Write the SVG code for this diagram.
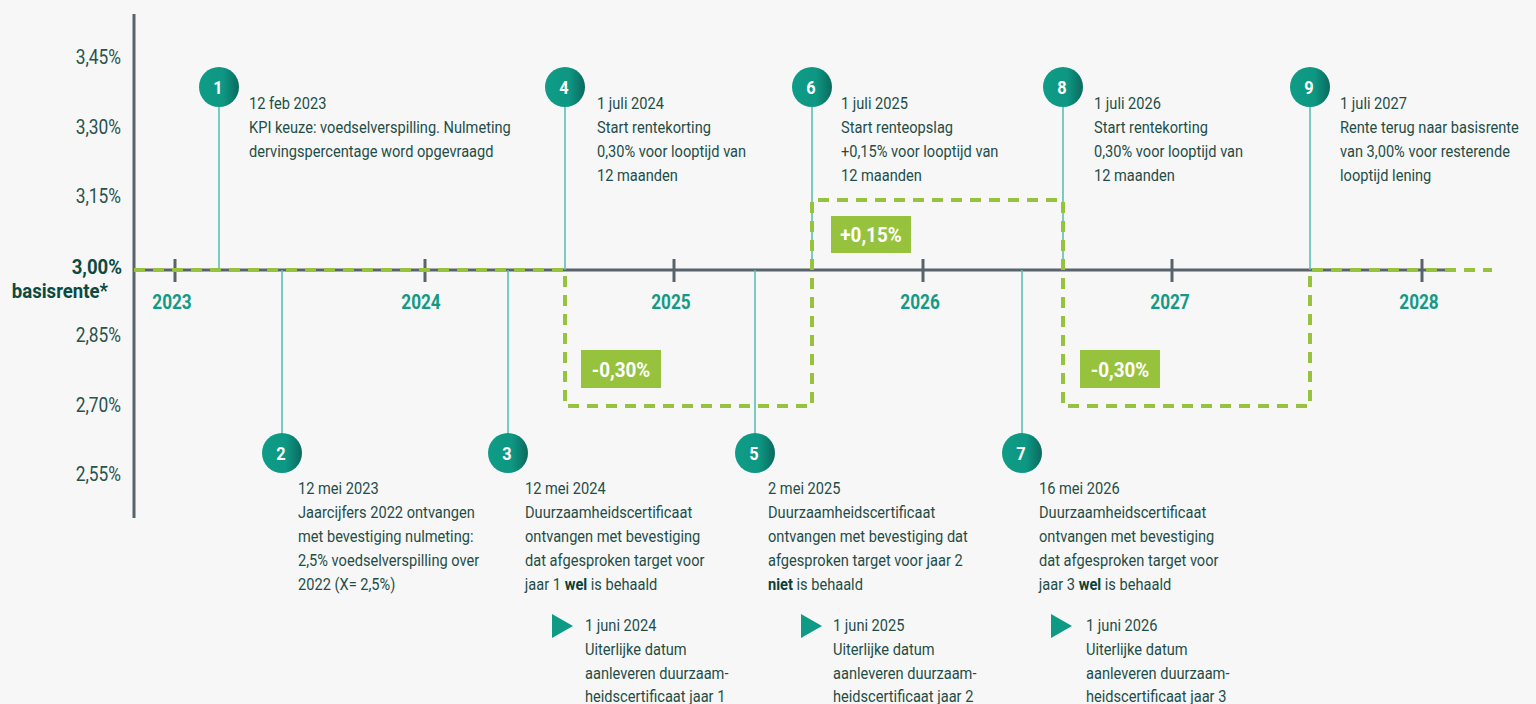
<svg xmlns="http://www.w3.org/2000/svg" width="1536" height="704" viewBox="0 0 1536 704">
<defs>
<linearGradient id="cg" x1="0" y1="0" x2="1" y2="0">
<stop offset="0" stop-color="#0f9c87"/>
<stop offset="0.6" stop-color="#0e9783"/>
<stop offset="1" stop-color="#0a6a5e"/>
</linearGradient>
<style>
text{font-family:"Roboto","Liberation Sans",sans-serif;transform-box:fill-box;}
.t{font-size:17px;fill:#1f4e47;transform-origin:left center;transform:scaleX(0.86);}
.ax{font-size:19.5px;fill:#2a524c;text-anchor:end;transform-origin:right center;transform:scaleX(0.89);}
.axb{font-size:20px;fill:#0d4a3f;text-anchor:end;font-weight:bold;transform-origin:right center;transform:scaleX(0.93);}
.yr{font-size:20px;fill:#139a86;font-weight:bold;text-anchor:middle;transform-origin:center;transform:scaleX(0.86);}
.num{font-size:19px;fill:#fff;font-weight:bold;text-anchor:middle;transform-origin:center;transform:scaleX(0.86);}
.bd{font-weight:bold;fill:#0d4038;}
.badge{fill:#97c23d;}
.bt{font-size:21px;fill:#fff;font-weight:bold;text-anchor:middle;transform-origin:center;transform:scaleX(0.9);}
.stem{stroke:#5cbfb1;stroke-width:1.6;fill:none;}
.dash{stroke:#97c23d;stroke-width:4;fill:none;stroke-dasharray:11 8;}
.tri{fill:#0e9a85;}
</style>
</defs>
<rect width="1536" height="704" fill="#f7f7f7"/>

<g id="axes">
<line x1="134" y1="14" x2="134" y2="518" stroke="#58636a" stroke-width="3"/>
<line x1="134" y1="270" x2="1445" y2="270" stroke="#58636a" stroke-width="3"/>
<g stroke="#58636a" stroke-width="3">
<line x1="175" y1="259" x2="175" y2="282"/>
<line x1="425" y1="259" x2="425" y2="282"/>
<line x1="674" y1="259" x2="674" y2="282"/>
<line x1="923" y1="259" x2="923" y2="282"/>
<line x1="1172" y1="259" x2="1172" y2="282"/>
<line x1="1422" y1="259" x2="1422" y2="282"/>
</g>
<text class="ax" x="121" y="64">3,45%</text>
<text class="ax" x="121" y="134">3,30%</text>
<text class="ax" x="121" y="203">3,15%</text>
<text class="axb" x="122" y="274">3,00%</text>
<text class="axb" x="108" y="298">basisrente*</text>
<text class="ax" x="121" y="342">2,85%</text>
<text class="ax" x="121" y="412">2,70%</text>
<text class="ax" x="121" y="481">2,55%</text>
<text class="yr" x="172" y="309">2023</text>
<text class="yr" x="421" y="309">2024</text>
<text class="yr" x="671" y="309">2025</text>
<text class="yr" x="920" y="309">2026</text>
<text class="yr" x="1170" y="309">2027</text>
<text class="yr" x="1419" y="309">2028</text>
</g>

<g id="connectors">
<line class="stem" x1="219" y1="105" x2="219" y2="270"/>
<line class="stem" x1="565" y1="105" x2="565" y2="270"/>
<line class="stem" x1="812" y1="105" x2="812" y2="270"/>
<line class="stem" x1="1063" y1="105" x2="1063" y2="270"/>
<line class="stem" x1="1310" y1="105" x2="1310" y2="270"/>
<line class="stem" x1="282" y1="270" x2="282" y2="435"/>
<line class="stem" x1="508" y1="270" x2="508" y2="435"/>
<line class="stem" x1="755" y1="270" x2="755" y2="435"/>
<line class="stem" x1="1022" y1="270" x2="1022" y2="435"/>
<path class="dash" d="M134 270 H565 V406 H812 V200 H1063 V406 H1310 V270 H1492"/>
</g>

<g id="badges">
<rect class="badge" x="581" y="350" width="80" height="38"/>
<text class="bt" x="621" y="377">-0,30%</text>
<rect class="badge" x="831" y="216" width="80" height="37"/>
<text class="bt" x="871" y="242">+0,15%</text>
<rect class="badge" x="1080" y="350" width="80" height="38"/>
<text class="bt" x="1120" y="377">-0,30%</text>
</g>

<g id="node1">
<circle cx="219" cy="87" r="20" fill="url(#cg)"/>
<text class="num" x="218" y="94">1</text>
<text class="t" x="249" y="109">12 feb 2023</text>
<text class="t" x="249" y="133">KPI keuze: voedselverspilling. Nulmeting</text>
<text class="t" x="249" y="157">dervingspercentage word opgevraagd</text>
</g>

<g id="node2">
<circle cx="282" cy="453" r="20" fill="url(#cg)"/>
<text class="num" x="281" y="460">2</text>
<text class="t" x="298" y="494">12 mei 2023</text>
<text class="t" x="298" y="518">Jaarcijfers 2022 ontvangen</text>
<text class="t" x="298" y="542">met bevestiging nulmeting:</text>
<text class="t" x="298" y="566">2,5% voedselverspilling over</text>
<text class="t" x="298" y="590">2022 (X= 2,5%)</text>
</g>

<g id="node3">
<circle cx="508" cy="453" r="20" fill="url(#cg)"/>
<text class="num" x="507" y="460">3</text>
<text class="t" x="525" y="494">12 mei 2024</text>
<text class="t" x="525" y="518">Duurzaamheidscertificaat</text>
<text class="t" x="525" y="542">ontvangen met bevestiging</text>
<text class="t" x="525" y="566">dat afgesproken target voor</text>
<text class="t" x="525" y="590">jaar 1 <tspan class="bd">wel</tspan> is behaald</text>
<polygon class="tri" points="552,614 573,626 552,638"/>
<text class="t" x="585" y="631">1 juni 2024</text>
<text class="t" x="585" y="655">Uiterlijke datum</text>
<text class="t" x="585" y="679">aanleveren duurzaam-</text>
<text class="t" x="585" y="702">heidscertificaat jaar 1</text>
</g>

<g id="node4">
<circle cx="565" cy="87" r="20" fill="url(#cg)"/>
<text class="num" x="564" y="94">4</text>
<text class="t" x="597" y="109">1 juli 2024</text>
<text class="t" x="597" y="133">Start rentekorting</text>
<text class="t" x="597" y="157">0,30% voor looptijd van</text>
<text class="t" x="597" y="181">12 maanden</text>
</g>

<g id="node5">
<circle cx="755" cy="453" r="20" fill="url(#cg)"/>
<text class="num" x="754" y="460">5</text>
<text class="t" x="768" y="494">2 mei 2025</text>
<text class="t" x="768" y="518">Duurzaamheidscertificaat</text>
<text class="t" x="768" y="542">ontvangen met bevestiging dat</text>
<text class="t" x="768" y="566">afgesproken target voor jaar 2</text>
<text class="t" x="768" y="590"><tspan class="bd">niet</tspan> is behaald</text>
<polygon class="tri" points="801,614 822,626 801,638"/>
<text class="t" x="833" y="631">1 juni 2025</text>
<text class="t" x="833" y="655">Uiterlijke datum</text>
<text class="t" x="833" y="679">aanleveren duurzaam-</text>
<text class="t" x="833" y="702">heidscertificaat jaar 2</text>
</g>

<g id="node6">
<circle cx="812" cy="87" r="20" fill="url(#cg)"/>
<text class="num" x="811" y="94">6</text>
<text class="t" x="841" y="109">1 juli 2025</text>
<text class="t" x="841" y="133">Start renteopslag</text>
<text class="t" x="841" y="157">+0,15% voor looptijd van</text>
<text class="t" x="841" y="181">12 maanden</text>
</g>

<g id="node7">
<circle cx="1022" cy="453" r="20" fill="url(#cg)"/>
<text class="num" x="1021" y="460">7</text>
<text class="t" x="1039" y="494">16 mei 2026</text>
<text class="t" x="1039" y="518">Duurzaamheidscertificaat</text>
<text class="t" x="1039" y="542">ontvangen met bevestiging</text>
<text class="t" x="1039" y="566">dat afgesproken target voor</text>
<text class="t" x="1039" y="590">jaar 3 <tspan class="bd">wel</tspan> is behaald</text>
<polygon class="tri" points="1051,614 1072,626 1051,638"/>
<text class="t" x="1086" y="631">1 juni 2026</text>
<text class="t" x="1086" y="655">Uiterlijke datum</text>
<text class="t" x="1086" y="679">aanleveren duurzaam-</text>
<text class="t" x="1086" y="702">heidscertificaat jaar 3</text>
</g>

<g id="node8">
<circle cx="1063" cy="87" r="20" fill="url(#cg)"/>
<text class="num" x="1062" y="94">8</text>
<text class="t" x="1094" y="109">1 juli 2026</text>
<text class="t" x="1094" y="133">Start rentekorting</text>
<text class="t" x="1094" y="157">0,30% voor looptijd van</text>
<text class="t" x="1094" y="181">12 maanden</text>
</g>

<g id="node9">
<circle cx="1310" cy="87" r="20" fill="url(#cg)"/>
<text class="num" x="1309" y="94">9</text>
<text class="t" x="1340" y="109">1 juli 2027</text>
<text class="t" x="1340" y="133">Rente terug naar basisrente</text>
<text class="t" x="1340" y="157">van 3,00% voor resterende</text>
<text class="t" x="1340" y="181">looptijd lening</text>
</g>
</svg>
